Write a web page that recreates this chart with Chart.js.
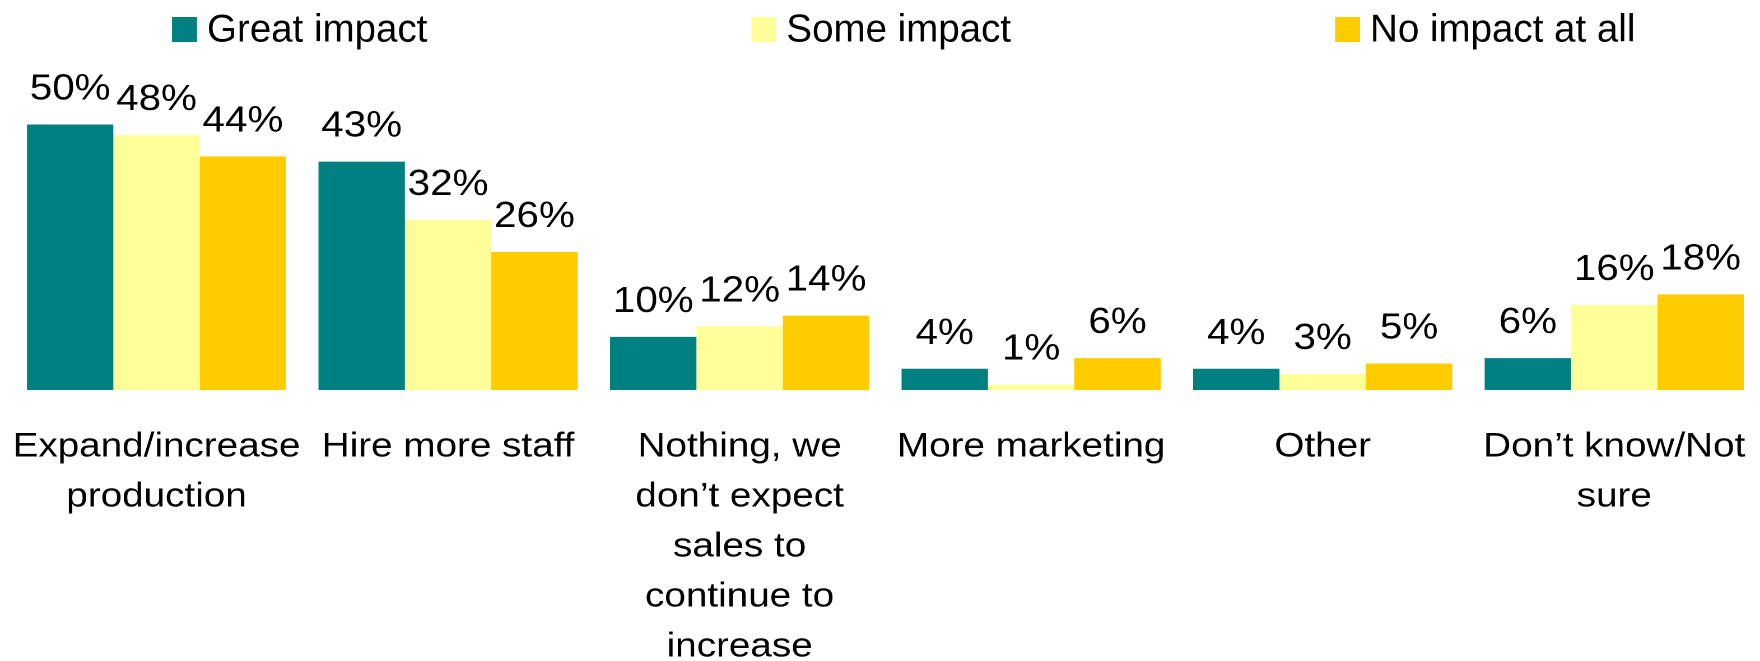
<!DOCTYPE html>
<html>
<head>
<meta charset="utf-8">
<script src="https://cdn.jsdelivr.net/npm/chart.js@4/dist/chart.umd.min.js"></script>
<style>
  html, body { margin: 0; padding: 0; background: #fff; overflow: hidden; }
  /* the chart is laid out on a narrower canvas and widened to the full page */
  #stage { width: 1571px; height: 661px; transform: scaleX(1.12031); transform-origin: 0 0; }
</style>
</head>
<body>
<div id="stage"><canvas id="c" width="1571" height="661"></canvas></div>
<script>
const categories = [
  ["Expand/increase", "production"],
  ["Hire more staff"],
  ["Nothing, we", "don’t expect", "sales to", "continue to", "increase"],
  ["More marketing"],
  ["Other"],
  ["Don’t know/Not", "sure"]
];
const seriesNames = ["Great impact", "Some impact", "No impact at all"];
const greatImpact = [50, 43, 10, 4, 4, 6];
const someImpact = [48, 32, 12, 1, 3, 16];
const noImpact = [44, 26, 14, 6, 5, 18];
const seriesColors = ["#008080", "#FFFF99", "#FFCC00"];

const STRETCH = 1760 / 1571;
const FONT = "'Liberation Sans', Arial, Helvetica, sans-serif";

// percentage written above every bar
const valueLabels = {
  id: 'valueLabels',
  afterDatasetsDraw(chart, args, opts) {
    const ctx = chart.ctx;
    ctx.save();
    ctx.font = opts.size + 'px ' + FONT;
    ctx.fillStyle = '#000';
    ctx.textAlign = 'center';
    ctx.textBaseline = 'alphabetic';
    chart.data.datasets.forEach((ds, i) => {
      chart.getDatasetMeta(i).data.forEach((bar, j) => {
        ctx.fillText(ds.data[j] + '%', bar.x, bar.y - opts.offset);
      });
    });
    ctx.restore();
  }
};

// single-row legend with wide spacing between entries
const wideLegend = {
  id: 'wideLegend',
  afterDraw(chart, args, opts) {
    const ctx = chart.ctx;
    ctx.save();
    ctx.scale(1 / STRETCH, 1);
    ctx.font = opts.fontSize + 'px ' + FONT;
    ctx.textAlign = 'left';
    ctx.textBaseline = 'alphabetic';
    let x = opts.left;
    chart.data.datasets.forEach(ds => {
      ctx.fillStyle = ds.backgroundColor;
      ctx.fillRect(x, opts.boxTop, opts.boxSize, opts.boxSize);
      ctx.fillStyle = '#000';
      const tx = x + opts.boxSize + opts.textGap;
      ctx.fillText(ds.label, tx, opts.baseline);
      x = tx + ctx.measureText(ds.label).width + opts.itemGap;
    });
    ctx.restore();
  }
};

const seriesValues = [greatImpact, someImpact, noImpact];

new Chart(document.getElementById('c'), {
  type: 'bar',
  data: {
    labels: categories,
    datasets: seriesNames.map((name, i) => ({
      label: name,
      data: seriesValues[i],
      backgroundColor: seriesColors[i],
      borderWidth: 0,
      categoryPercentage: 0.889,
      barPercentage: 1.0
    }))
  },
  options: {
    responsive: false,
    animation: false,
    devicePixelRatio: 2,
    layout: { padding: { left: 9.6, right: 0, top: 71.4, bottom: 0 } },
    plugins: {
      legend: { display: false },
      tooltip: { enabled: false },
      valueLabels: { size: 36, offset: 25 },
      wideLegend: { left: 172, boxTop: 17, boxSize: 25, textGap: 10, baseline: 41.7, fontSize: 38.5, itemGap: 324 }
    },
    scales: {
      x: {
        grid: { display: false, drawTicks: false },
        border: { display: false },
        ticks: {
          color: '#000',
          font: { family: FONT, size: 34.5, lineHeight: '50px' },
          padding: 32,
          maxRotation: 0,
          minRotation: 0,
          autoSkip: false
        },
        afterFit(scale) {
          scale.height = 271;
          scale.paddingLeft = 0;
          scale.paddingRight = 0;
        }
      },
      y: {
        display: false,
        min: 0,
        max: 60
      }
    }
  },
  plugins: [valueLabels, wideLegend]
});
</script>
</body>
</html>
